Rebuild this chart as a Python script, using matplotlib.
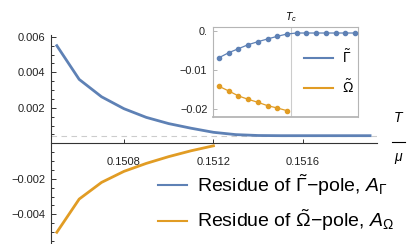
import matplotlib
matplotlib.use("Agg")
import matplotlib.pyplot as plt
from matplotlib.lines import Line2D
from matplotlib.ticker import FixedLocator, FixedFormatter, MultipleLocator

plt.rcParams['font.family'] = ['Liberation Sans', 'DejaVu Sans']
plt.rcParams['mathtext.fontset'] = 'custom'
plt.rcParams['mathtext.rm'] = 'Liberation Sans'
plt.rcParams['mathtext.it'] = 'Liberation Sans:italic'
plt.rcParams['mathtext.bf'] = 'Liberation Sans:bold'

# ---- data ----
T_all = [0.1505, 0.1506, 0.1507, 0.1508, 0.1509, 0.1510, 0.1511, 0.1512,
         0.1513, 0.1514, 0.1515, 0.1516, 0.1517, 0.1518, 0.1519]
T_low = T_all[:8]
res_gamma = [0.0055, 0.0036, 0.00262, 0.00195, 0.00146, 0.00111, 0.00085, 0.00062,
             0.00049, 0.00044, 0.00043, 0.00043, 0.00043, 0.00043, 0.00043]
res_omega = [-0.00501, -0.00314, -0.0022, -0.00158, -0.00113, -0.00075, -0.00042, -0.00014]
ref_level = 0.00041

inset_gamma = [-0.00687, -0.0056, -0.00458, -0.00356, -0.0028, -0.0021, -0.00143, -0.00084,
               -0.00059, -0.00059, -0.00059, -0.00059, -0.00059, -0.00059, -0.00059]
inset_omega = [-0.01415, -0.01534, -0.0166, -0.01746, -0.01822, -0.01908, -0.01967, -0.02035]
Tc = 0.151238

main_xticks = [0.1508, 0.1512, 0.1516]
main_xlabels = ['0.1508', '0.1512', '0.1516']
main_yticks = [-0.004, -0.002, 0.002, 0.004, 0.006]
main_ylabels = ['\u22120.004', '\u22120.002', '0.002', '0.004', '0.006']
inset_yticks = [-0.02, -0.01, 0.0]
inset_ylabels = ['\u22120.02', '\u22120.01', '0.']

legend_main = [r'Residue of $\tilde{\Gamma}$' + '\u2212' + r'pole, $A_{\Gamma}$',
               r'Residue of $\tilde{\Omega}$' + '\u2212' + r'pole, $A_{\Omega}$']
legend_inset = [r'$\tilde{\Gamma}$', r'$\tilde{\Omega}$']

BLUE = '#5E81B5'
ORANGE = '#E19C24'

W, H = 407, 244
fig = plt.figure(figsize=(W / 100, H / 100), dpi=100)

# ---- main axes ----
ax = fig.add_axes([51 / W, 0, 326 / W, 209 / H])
ax.set_xlim(0.150474, 0.151931)
ax.set_ylim(-0.00567, 0.0061)
ax.axhline(ref_level, color='#cccccc', lw=0.8, ls=(0, (5, 4)), zorder=1)
ax.plot(T_all, res_gamma, color=BLUE, lw=2.0, zorder=3, solid_joinstyle='round')
ax.plot(T_low, res_omega, color=ORANGE, lw=2.0, zorder=3, solid_joinstyle='round')

for s in ['top', 'right']:
    ax.spines[s].set_visible(False)
ax.spines['bottom'].set_position(('data', 0))
for s in ['left', 'bottom']:
    ax.spines[s].set_color('#333333')
    ax.spines[s].set_linewidth(0.8)
ax.patch.set_visible(False)

ax.xaxis.set_major_locator(FixedLocator(main_xticks))
ax.xaxis.set_major_formatter(FixedFormatter(main_xlabels))
ax.yaxis.set_major_locator(FixedLocator(main_yticks))
ax.yaxis.set_major_formatter(FixedFormatter(main_ylabels))
ax.yaxis.set_minor_locator(MultipleLocator(0.0005))
ax.tick_params(axis='both', which='both', direction='in', color='#333333', width=0.7,
               labelsize=8, labelcolor='#222222')
ax.tick_params(axis='x', which='major', length=3, pad=9.5)
ax.tick_params(axis='y', which='major', length=3.5, pad=4)
ax.tick_params(axis='y', which='minor', length=2)

handles_main = [Line2D([], [], color=BLUE, lw=1.5), Line2D([], [], color=ORANGE, lw=1.5)]
fig.legend(handles_main, legend_main, loc='center left',
           bbox_to_anchor=(158 / W, 1 - 203 / H), frameon=False, fontsize=14,
           handlelength=1.5, handletextpad=0.5, labelspacing=0.5,
           borderpad=0, borderaxespad=0)

# T/mu label
fig.text(398 / W, 1 - 118 / H, 'T', fontsize=10, style='italic', ha='center', va='center')
fig.add_artist(Line2D([391.7 / W, 405 / W], [1 - 141.7 / H, 1 - 141.7 / H],
                      color='black', lw=0.8, transform=fig.transFigure))
fig.text(398 / W, 1 - 157 / H, '\u03bc', fontsize=10, style='italic', ha='center', va='center')

# ---- inset ----
ai = fig.add_axes([213 / W, (H - 117) / H, 145 / W, 90 / H])
ai.set_xlim(0.150438, 0.151931)
ai.set_ylim(-0.02196, 0.00094)
ai.axvline(Tc, color='#cccccc', lw=0.8, zorder=1)
ai.plot(T_all, inset_gamma, color=BLUE, lw=0.9, marker='o', ms=3, zorder=3)
ai.plot(T_low, inset_omega, color=ORANGE, lw=0.9, marker='o', ms=3, zorder=3)
for s in ai.spines.values():
    s.set_color('#b5b5b5')
    s.set_linewidth(0.8)
ai.spines['bottom'].set_linewidth(1.3)
ai.set_xticks([])
ai.yaxis.set_major_locator(FixedLocator(inset_yticks))
ai.yaxis.set_major_formatter(FixedFormatter(inset_ylabels))
ai.tick_params(axis='y', direction='in', length=3, color='#b5b5b5', width=0.7,
               labelsize=7.8, pad=4, labelcolor='#222222')
ai.text(Tc, 1.03, r'$T_c$', transform=ai.get_xaxis_transform(), fontsize=7.5,
        ha='center', va='bottom')

handles_in = [Line2D([], [], color=BLUE, lw=1.5), Line2D([], [], color=ORANGE, lw=1.5)]
fig.legend(handles_in, legend_inset, loc='center left',
           bbox_to_anchor=(304 / W, 1 - 72.2 / H), frameon=False, fontsize=10,
           handlelength=2.1, handletextpad=0.6, labelspacing=0.9,
           borderpad=0, borderaxespad=0)

fig.savefig('out.png', dpi=100)
